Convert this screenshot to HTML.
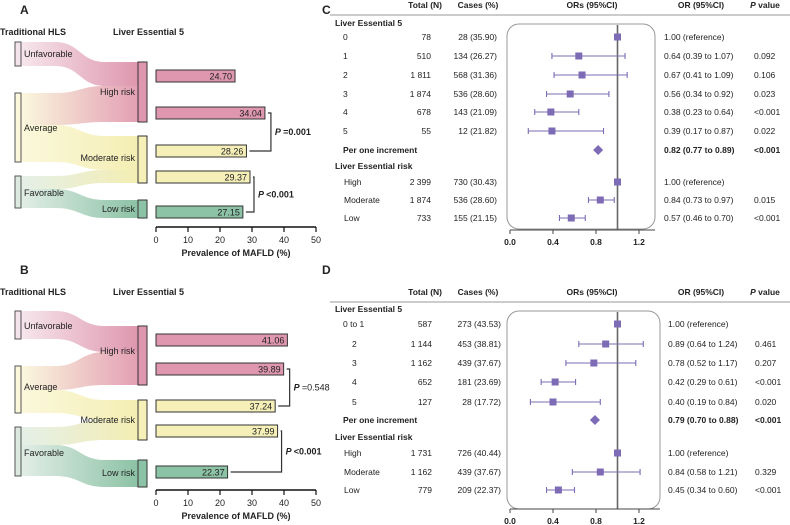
<!DOCTYPE html>
<html><head><meta charset="utf-8"><style>
body{margin:0;background:#fff;}
svg{display:block;font-family:"Liberation Sans",Arial,sans-serif;}
text{fill:#222;}
.b{font-weight:bold;}
</style></head><body>
<svg id="fig" width="790" height="525" viewBox="0 0 790 525">
<defs>
<linearGradient id="gPink" x1="0" x2="1"><stop offset="0" stop-color="#f6e6ec"/><stop offset="1" stop-color="#de97ae"/></linearGradient>
<linearGradient id="gYP" x1="0" x2="1"><stop offset="0" stop-color="#fbf8de"/><stop offset="1" stop-color="#e39fb4"/></linearGradient>
<linearGradient id="gYel" x1="0" x2="1"><stop offset="0" stop-color="#fbf8dc"/><stop offset="1" stop-color="#f4eeb3"/></linearGradient>
<linearGradient id="gGY" x1="0" x2="1"><stop offset="0" stop-color="#e4efe8"/><stop offset="1" stop-color="#f4eeb3"/></linearGradient>
<linearGradient id="gGrn" x1="0" x2="1"><stop offset="0" stop-color="#e2eee7"/><stop offset="1" stop-color="#8cc2a5"/></linearGradient>
</defs>
<g id="panelA"></g>
<g id="panelB"></g>
<g id="panelC"></g>
<g id="panelD"></g>
</svg>
<script>
// ---- Data: prevalence bars (panels A, B) ----
const barLabelsA = ["High risk (Unfavorable)","High risk (Average)","Moderate risk (Average)","Moderate risk (Favorable)","Low risk (Favorable)"];
const prevA = [24.70, 34.04, 28.26, 29.37, 27.15];
const prevB = [41.06, 39.89, 37.24, 37.99, 22.37];
const pA = ["=0.001", "<0.001"];
const pB = ["=0.548", "<0.001"];
const prevTicks = [0, 10, 20, 30, 40, 50];
// ---- Data: forest plot C ----
const catsC = ["0","1","2","3","4","5"];
const totalC = ["78","510","1 811","1 874","678","55"];
const casesC = ["28 (35.90)","134 (26.27)","568 (31.36)","536 (28.60)","143 (21.09)","12 (21.82)"];
const orC = [1.00, 0.64, 0.67, 0.56, 0.38, 0.39];
const loC = [null, 0.39, 0.41, 0.34, 0.23, 0.17];
const hiC = [null, 1.07, 1.09, 0.92, 0.64, 0.87];
const pC = ["", "0.092", "0.106", "0.023", "<0.001", "0.022"];
const incC = [0.82, 0.77, 0.89];
const riskCats = ["High","Moderate","Low"];
const riskTotalC = ["2 399","1 874","733"];
const riskCasesC = ["730 (30.43)","536 (28.60)","155 (21.15)"];
const riskOrC = [1.00, 0.84, 0.57];
const riskLoC = [null, 0.73, 0.46];
const riskHiC = [null, 0.97, 0.70];
const riskPC = ["", "0.015", "<0.001"];
// ---- Data: forest plot D ----
const catsD = ["0 to 1","2","3","4","5"];
const totalD = ["587","1 144","1 162","652","127"];
const casesD = ["273 (43.53)","453 (38.81)","439 (37.67)","181 (23.69)","28 (17.72)"];
const orD = [1.00, 0.89, 0.78, 0.42, 0.40];
const loD = [null, 0.64, 0.52, 0.29, 0.19];
const hiD = [null, 1.24, 1.17, 0.61, 0.84];
const pD = ["", "0.461", "0.207", "<0.001", "0.020"];
const incD = [0.79, 0.70, 0.88];
const riskTotalD = ["1 731","1 162","779"];
const riskCasesD = ["726 (40.44)","439 (37.67)","209 (22.37)"];
const riskOrD = [1.00, 0.84, 0.45];
const riskLoD = [null, 0.58, 0.34];
const riskHiD = [null, 1.21, 0.60];
const riskPD = ["", "0.329", "<0.001"];
const orTicks = [0.0, 0.4, 0.8, 1.2];

const NS = "http://www.w3.org/2000/svg";
function mk(parent, tag, attrs, txt){
  const e = document.createElementNS(NS, tag);
  for (const k in attrs) e.setAttribute(k, attrs[k]);
  if (txt !== undefined) e.textContent = txt;
  parent.appendChild(e);
  return e;
}
function fmtCI(o,l,h){ return o.toFixed(2)+" ("+l.toFixed(2)+" to "+h.toFixed(2)+")"; }

const barFill = ["#de97ae","#de97ae","#f6f0b8","#f6f0b8","#8cc2a5"];

function sankeyPanel(g, oy, cfg, vals, pvals, letter){
  let t;
  t = mk(g,"text",{x:20,y:oy+14,"font-size":12,"class":"b"},letter);
  
  
  t = mk(g,"text",{x:0,y:oy+35,"font-size":9,"class":"b"},"Traditional HLS");
  
  
  t = mk(g,"text",{x:113,y:oy+35,"font-size":9,"class":"b"},"Liver Essential 5");
  
  
  // flows
  const fills = ["url(#gPink)","url(#gYP)","url(#gYel)","url(#gGY)","url(#gGrn)"];
  cfg.flows.forEach((f,i)=>{
    const [a1,a2,b1,b2] = f.map(v=>v+oy);
    const d = `M21,${a1} L55,${a1} C80,${a1} 80,${b1} 105,${b1} L138,${b1} L138,${b2} L105,${b2} C80,${b2} 80,${a2} 55,${a2} L21,${a2} Z`;
    const p = mk(g,"path",{d:d,fill:fills[i],stroke:"none"});
    
    
  });
  const lcol = ["#f3e3ea","#fbf7da","#dbe9e1"];
  const lname = ["Unfavorable","Average","Favorable"];
  cfg.left.forEach((n,i)=>{
    const r = mk(g,"rect",{x:15,y:n[0]+oy,width:6,height:n[1]-n[0],fill:lcol[i],stroke:"#555","stroke-width":1});
    
    
    const tt = mk(g,"text",{x:24,y:n[2]+oy,"font-size":9},lname[i]);
    
    
  });
  const rcol = ["#de97ae","#f6f0b8","#8cc2a5"];
  const rname = ["High risk","Moderate risk","Low risk"];
  cfg.right.forEach((n,i)=>{
    const r = mk(g,"rect",{x:138,y:n[0]+oy,width:9,height:n[1]-n[0],fill:rcol[i],stroke:"#333","stroke-width":1});
    
    
    const tt = mk(g,"text",{x:135,y:n[2]+oy,"font-size":9,"text-anchor":"end"},rname[i]);
    
    
  });
  // bar chart
  const x0 = 156, x1 = 316, vmax = 50;
  const xs = v => x0 + (v/vmax)*(x1-x0);
  const ends = [];
  vals.forEach((v,i)=>{
    const y = cfg.bars[i]+oy;
    const r = mk(g,"rect",{x:xs(0),y:y,width:xs(v)-xs(0),height:12,fill:barFill[i],stroke:"#333","stroke-width":1});
    
    
    const tt = mk(g,"text",{x:xs(v)-3,y:y+9.5,"font-size":9,"text-anchor":"end"},v.toFixed(2));
    
    
    ends.push([xs(v), y+6]);
  });
  // brackets
  [[1,2],[3,4]].forEach((pr,k)=>{
    const bx = Math.max(ends[pr[0]][0], ends[pr[1]][0]) + cfg.brk[k];
    const ya = ends[pr[0]][1], yb = ends[pr[1]][1];
    const p = mk(g,"path",{d:`M${ends[pr[0]][0]+3},${ya} H${bx} V${yb} H${ends[pr[1]][0]+3}`,fill:"none",stroke:"#333","stroke-width":1.2});
    
    
    const bold = pvals[k] !== "=0.548";
    const tt = mk(g,"text",{x:bx+4,y:(ya+yb)/2+3,"font-size":9});
    
    
    mk(tt,"tspan",{"font-style":"italic","font-weight":"bold"},"P ");
    mk(tt,"tspan",bold?{"font-weight":"bold"}:{},pvals[k]);
  });
  // axis
  const ay = cfg.axis+oy;
  const ax = mk(g,"line",{x1:xs(0),x2:xs(50),y1:ay,y2:ay,stroke:"#111","stroke-width":1.5});
  
  
  prevTicks.forEach(v=>{
    mk(g,"line",{x1:xs(v),x2:xs(v),y1:ay,y2:ay+5,stroke:"#111","stroke-width":1.2});
    const tt = mk(g,"text",{x:xs(v),y:ay+16,"font-size":9,"text-anchor":"middle"},String(v));
    
    
  });
  const tt = mk(g,"text",{x:xs(25),y:ay+29,"font-size":9,"text-anchor":"middle","class":"b"},"Prevalence of MAFLD (%)");
  
  
}

sankeyPanel(document.getElementById("panelA"), 0, {
  left:[[42,66,57],[93,162,131],[176,208,196]],
  right:[[62,122,95],[136,183,161],[200,218,212]],
  flows:[[42,66,62,86],[93,125,86,122],[125,162,136,170],[176,189,170,183],[189,208,200,218]],
  bars:[70,107,145,171,206], brk:[6,4], axis:227
}, prevA, pA, "A");

sankeyPanel(document.getElementById("panelB"), 260, {
  left:[[51,79,69],[106,153,130],[167,216,196]],
  right:[[66,125,94],[140,180,163],[200,227,216]],
  flows:[[51,79,66,92],[106,130,92,125],[130,153,140,160],[167,185,160,180],[185,216,200,227]],
  bars:[74,103,140,165,206], brk:[6,4], axis:230
}, prevB, pB, "B");

function forestPanel(g, oy, d, letter){
  const X0 = 510, SC = 107.5;
  const xs = v => X0 + v*SC;
  let t;
  t = mk(g,"text",{x:322,y:oy+14,"font-size":12,"class":"b"},letter);
  
  
  const hy = oy + d.head;
  const heads = [["Total (N)",442,"end"],["Cases (%)",478,"middle"],["ORs (95%CI)",592,"middle"],["OR (95%CI)",701,"middle"]];
  heads.forEach(h=>{
    const tt = mk(g,"text",{x:h[1],y:hy,"font-size":8.5,"text-anchor":h[2],"class":"b"},h[0]);
    
    
  });
  const ph = mk(g,"text",{x:765,y:hy,"font-size":8.5,"text-anchor":"middle","class":"b"});
  
  
  mk(ph,"tspan",{"font-style":"italic"},"P");
  mk(ph,"tspan",{}," value");
  mk(g,"line",{x1:330,x2:790,y1:hy+7,y2:hy+7,stroke:"#999","stroke-width":1});
  // box
  const box = mk(g,"rect",{x:507,y:oy+d.box[0],width:d.boxW,height:d.box[1]-d.box[0],rx:12,fill:"none",stroke:"#999","stroke-width":1});
  
  
  const rl = mk(g,"line",{x1:xs(1),x2:xs(1),y1:oy+d.box[0]+1,y2:oy+d.axis,stroke:"#666","stroke-width":1.6});
  
  
  // section headers
  d.sec.forEach((s,i)=>{
    const tt = mk(g,"text",{x:335,y:oy+s+3,"font-size":8.5,"class":"b"},i===0?"Liver Essential 5":"Liver Essential risk");
    
    
  });
  function row(y, label, lx, tot, cas, o, l, h, p){
    const ty = y+3;
    let tt = mk(g,"text",{x:lx,y:ty,"font-size":8.5},label);
    
    
    tt = mk(g,"text",{x:d.totX,y:ty,"font-size":8.5,"text-anchor":"end"},tot);
    
    
    tt = mk(g,"text",{x:d.casX,y:ty,"font-size":8.5,"text-anchor":"end"},cas);
    
    
    if (l !== null){
      const ci = mk(g,"path",{d:`M${xs(l)},${y-3} V${y+3} M${xs(l)},${y} H${xs(h)} M${xs(h)},${y-3} V${y+3}`,stroke:"#7e6bb5","stroke-width":1.1,fill:"none"});
      
      
    }
    const sq = mk(g,"rect",{x:xs(o)-3.5,y:y-3.5,width:7,height:7,fill:"#7e6bb5"});
    
    
    tt = mk(g,"text",{x:d.orX,y:ty,"font-size":8.5},l===null?"1.00 (reference)":fmtCI(o,l,h));
    
    
    if (p){
      tt = mk(g,"text",{x:d.pX,y:ty,"font-size":8.5},p);
      
      
    }
  }
  d.cats.forEach((c,i)=>row(oy+d.rows[i], c, d.catX[i], d.tot[i], d.cas[i], d.or[i], d.lo[i], d.hi[i], d.p[i]));
  // increment
  const iy = oy + d.inc;
  let tt = mk(g,"text",{x:343,y:iy+3,"font-size":8.5,"class":"b"},"Per one increment");
  
  
  const cx = xs(d.incv[0]);
  const dm = mk(g,"path",{d:`M${cx},${iy-5} L${cx+5},${iy} L${cx},${iy+5} L${cx-5},${iy} Z`,fill:"#7e6bb5"});
  
  
  tt = mk(g,"text",{x:d.orX,y:iy+3,"font-size":8.5,"class":"b"},fmtCI(d.incv[0],d.incv[1],d.incv[2]));
  
  
  tt = mk(g,"text",{x:d.pX,y:iy+3,"font-size":8.5,"class":"b"},"<0.001");
  
  
  riskCats.forEach((c,i)=>row(oy+d.rrows[i], c, 344, d.rtot[i], d.rcas[i], d.ror[i], d.rlo[i], d.rhi[i], d.rp[i]));
  // axis
  const ay = oy + d.axis;
  const ax = mk(g,"line",{x1:X0,x2:507+d.boxW,y1:ay,y2:ay,stroke:"#444","stroke-width":1});
  
  
  orTicks.forEach(v=>{
    mk(g,"line",{x1:xs(v),x2:xs(v),y1:ay,y2:ay+4,stroke:"#444","stroke-width":1});
    const q = mk(g,"text",{x:xs(v),y:ay+15,"font-size":8.5,"text-anchor":"middle","class":"b"},v.toFixed(1));
    
    
  });
}

forestPanel(document.getElementById("panelC"), 0, {
  head:8, box:[24,229], boxW:148, axis:230,
  sec:[23,166], rows:[37,56,75,94,112,131], inc:150, rrows:[182,200,218],
  cats:catsC, catX:[343,343,343,343,343,343], tot:totalC, cas:casesC, or:orC, lo:loC, hi:hiC, p:pC,
  incv:incC, rtot:riskTotalC, rcas:riskCasesC, ror:riskOrC, rlo:riskLoC, rhi:riskHiC, rp:riskPC,
  totX:431, casX:497, orX:664, pX:754
}, "C");

forestPanel(document.getElementById("panelD"), 260, {
  head:35, box:[51,249], boxW:153, axis:249,
  sec:[49,177], rows:[64,84,103,122,142], inc:160, rrows:[193,212,230],
  cats:catsD, catX:[343,352,352,352,352], tot:totalD, cas:casesD, or:orD, lo:loD, hi:hiD, p:pD,
  incv:incD, rtot:riskTotalD, rcas:riskCasesD, ror:riskOrD, rlo:riskLoD, rhi:riskHiD, rp:riskPD,
  totX:432, casX:501, orX:668, pX:755
}, "D");
</script>
</body></html>
